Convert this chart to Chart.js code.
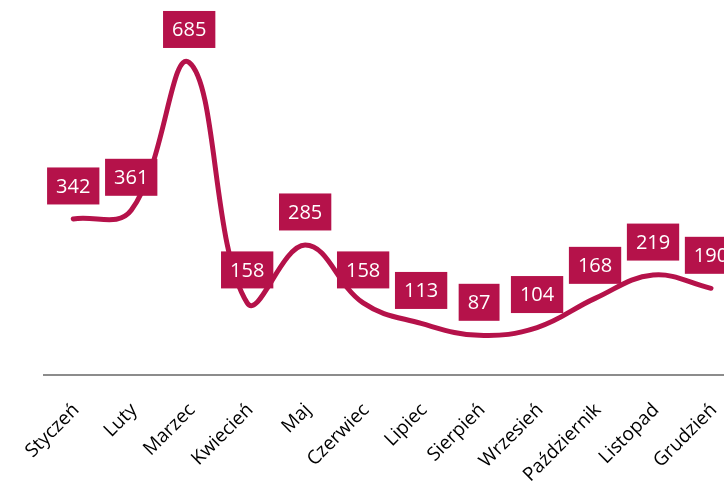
<!DOCTYPE html>
<html>
<head>
<meta charset="utf-8">
<script src="https://cdn.jsdelivr.net/npm/chart.js@4/dist/chart.umd.min.js"></script>
<style>
  html, body { margin: 0; padding: 0; background: #fff; overflow: hidden; }
  #wrap { width: 724px; height: 481px; overflow: hidden; }
</style>
</head>
<body>
<div id="wrap">
  <canvas id="miesiaceChart" width="760" height="481"></canvas>
</div>
<script>
const miesiace = ['Styczeń', 'Luty', 'Marzec', 'Kwiecień', 'Maj', 'Czerwiec', 'Lipiec',
  'Sierpień', 'Wrzesień', 'Październik', 'Listopad', 'Grudzień'];
const wartosci = [342, 361, 685, 158, 285, 158, 113, 87, 104, 168, 219, 190];

const kolor = 'rgb(181, 18, 74)';

// etykiety danych w kolorowych prostokatach nad punktami
const etykietyPlugin = {
  id: 'etykiety',
  afterDatasetsDraw(chart) {
    const ctx = chart.ctx;
    const meta = chart.getDatasetMeta(0);
    ctx.save();
    ctx.font = '20px "Open Sans"';
    ctx.textAlign = 'center';
    ctx.textBaseline = 'middle';
    meta.data.forEach((pt, i) => {
      const txt = String(wartosci[i]);
      const w = ctx.measureText(txt).width + 18;
      const h = 37;
      const cx = pt.x;
      const cy = pt.y - 33;
      ctx.fillStyle = kolor;
      ctx.fillRect(cx - w / 2, cy - h / 2, w, h);
      ctx.fillStyle = '#fff';
      ctx.fillText(txt, cx, cy + 1);
    });
    ctx.restore();
  }
};

const ctx = document.getElementById('miesiaceChart').getContext('2d');
new Chart(ctx, {
  type: 'line',
  data: {
    labels: miesiace,
    datasets: [{
      data: wartosci,
      borderColor: kolor,
      borderWidth: 5,
      borderCapStyle: 'round',
      borderJoinStyle: 'round',
      pointRadius: 0,
      tension: 0.4,
      fill: false
    }]
  },
  options: {
    responsive: false,
    animation: false,
    devicePixelRatio: 1,
    layout: { padding: { left: 44, right: 20, top: 10, bottom: 0 } },
    plugins: {
      legend: { display: false },
      tooltip: { enabled: false }
    },
    scales: {
      x: {
        offset: true,
        grid: { display: false, drawTicks: false },
        border: { display: true, color: '#8c8c8c', width: 2 },
        ticks: {
          autoSkip: false,
          minRotation: 45,
          maxRotation: 45,
          padding: 24,
          labelOffset: 3,
          color: '#000',
          font: { family: '"Open Sans"', size: 19 }
        },
        afterFit(scale) { scale.height = 106; }
      },
      y: {
        display: false,
        min: 0,
        max: 800
      }
    }
  },
  plugins: [etykietyPlugin]
});
</script>
</body>
</html>
